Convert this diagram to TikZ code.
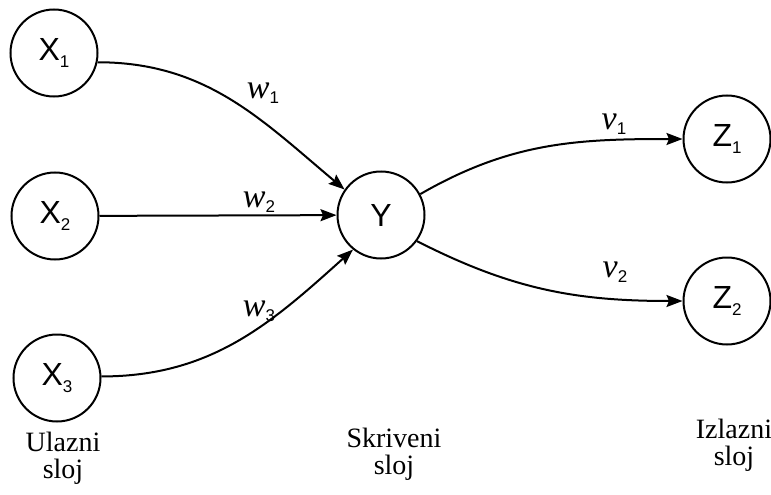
\documentclass[tikz,border=0pt]{standalone}
\usepackage{fontspec}
\setmainfont{Liberation Serif}
\setsansfont{Liberation Sans}
\usetikzlibrary{arrows.meta}
\begin{document}
\begin{tikzpicture}[x=1pt,y=-1pt,
  neuron/.style={draw, circle, line width=2pt, minimum size=87pt, inner sep=0pt, font=\sffamily\fontsize{32}{32}\selectfont},
  conn/.style={line width=2pt, -{Stealth[length=16pt,width=12pt,inset=2.5pt]}},
  wlab/.style={font=\fontsize{34}{34}\selectfont},
  layer/.style={align=center, font=\fontsize{28}{27}\selectfont}]
\useasboundingbox (0,0) rectangle (771,495);
\newcommand{\nlab}[2]{#1\raisebox{-0.4ex}{\fontsize{17}{17}\selectfont #2}}
\newcommand{\wl}[2]{\textit{#1}\raisebox{-0.3ex}{\sffamily\fontsize{17}{17}\selectfont #2}}
\node[neuron] (x1) at (54,53) {\nlab{X}{1}};
\node[neuron] (x2) at (55,216) {\nlab{X}{2}};
\node[neuron] (x3) at (57,378) {\nlab{X}{3}};
\node[neuron] (y) at (381,215) {Y};
\node[neuron] (z1) at (727,139) {\nlab{Z}{1}};
\node[neuron] (z2) at (727,301) {\nlab{Z}{2}};
\draw[conn] (x1.-12) to[out=0,in=140] (y.145);
\draw[conn] (x2) -- (y);
\draw[conn] (x3.2) to[out=0,in=222] (y.231);
\draw[conn] (y.28) to[out=30,in=180] (z1.west);
\draw[conn] (y.-36) to[out=-27,in=180] (z2.west);
\node[wlab] (w1) at (263,93) {\wl{w}{1}};
\node[wlab] (w2) at (259,202) {\wl{w}{2}};
\node[wlab] (w3) at (259,311) {\wl{w}{3}};
\node[wlab] (v1) at (614,124) {\wl{v}{1}};
\node[wlab] (v2) at (615,272) {\wl{v}{2}};
\node[layer] (l1) at (63,458) {Ulazni\\sloj};
\node[layer] (l2) at (394,454) {Skriveni\\sloj};
\node[layer] (l3) at (734,445) {Izlazni\\sloj};
\end{tikzpicture}
\end{document}
